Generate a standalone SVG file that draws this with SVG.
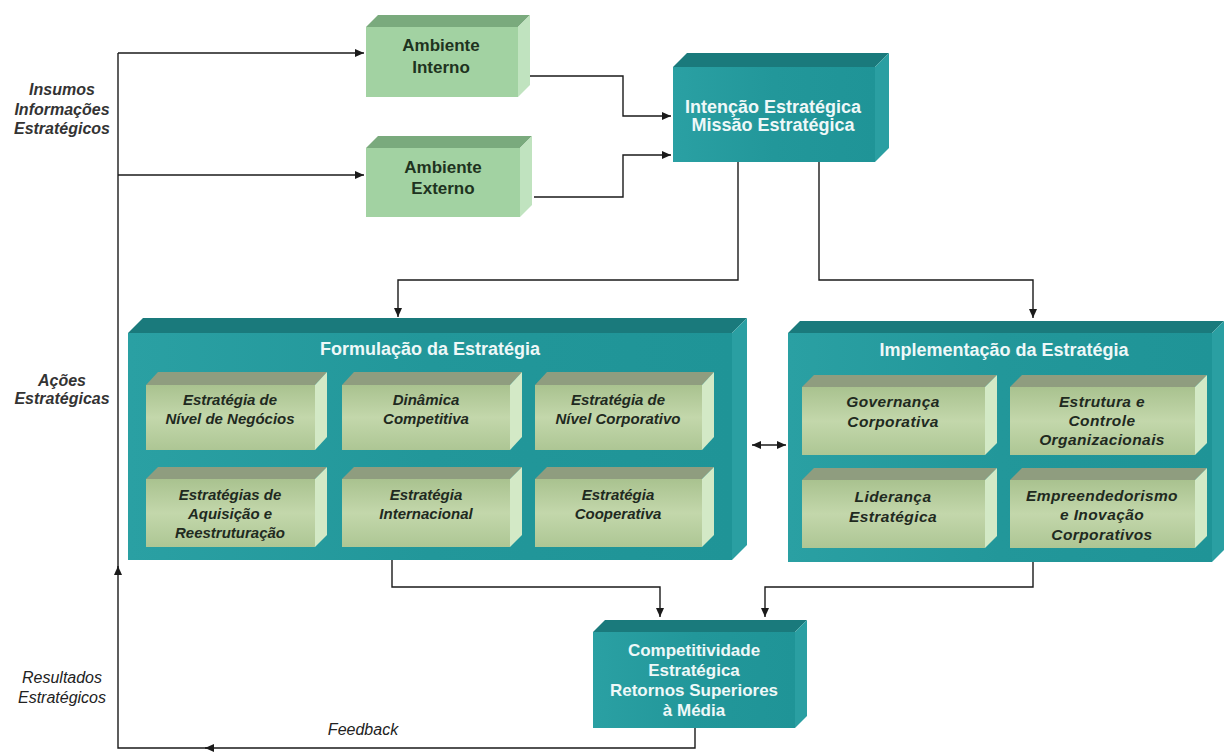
<svg xmlns="http://www.w3.org/2000/svg" width="1224" height="754" viewBox="0 0 1224 754">
<defs>
<marker id="ah" markerWidth="9" markerHeight="8" refX="9" refY="4" orient="auto" markerUnits="userSpaceOnUse">
<path d="M0,0 L9,4 L0,8 z" fill="#1a1a1a"/>
</marker>
<marker id="ahs" markerWidth="9" markerHeight="8" refX="0" refY="4" orient="auto" markerUnits="userSpaceOnUse">
<path d="M9,0 L0,4 L9,8 z" fill="#1a1a1a"/>
</marker>
<linearGradient id="gInner" x1="0" y1="0" x2="0" y2="1">
<stop offset="0" stop-color="#a9c28f"/>
<stop offset="0.5" stop-color="#c3d7ab"/>
<stop offset="1" stop-color="#adc694"/>
</linearGradient>
<linearGradient id="gTeal" x1="0" y1="0" x2="1" y2="0">
<stop offset="0" stop-color="#2aa0a3"/>
<stop offset="0.5" stop-color="#22979a"/>
<stop offset="1" stop-color="#1f9497"/>
</linearGradient>
</defs>
<style>
.tf{fill:url(#gTeal)}
.tt{fill:#1a7a7c}
.tr{fill:#2a9fa2}
.gf{fill:#a2d2a2}
.gt{fill:#7aaa7d}
.gr{fill:#c0e3bf}
.if{fill:url(#gInner)}
.it{fill:#8f9d7f}
.ir{fill:#d3e9c6}
text{font-family:"Liberation Sans",Arial,Helvetica,sans-serif;text-anchor:middle}
.tw{fill:#eef8f8;font-weight:bold;font-size:18px}
.tg{fill:#1e3320;font-weight:bold;font-size:17px}
.ti{fill:#1f2a1f;font-weight:bold;font-style:italic;font-size:15px}
.tj{fill:#1f2a1f;font-weight:bold;font-style:italic;font-size:15.5px;letter-spacing:0.4px}
.lb{fill:#333;font-weight:bold;font-style:italic;font-size:16px}
.lr{fill:#222;font-style:italic;font-size:16px}
.c{fill:none;stroke:#1a1a1a;stroke-width:1.4}
</style>

<g id="connectors">
<path class="c" d="M118,53 H364" marker-end="url(#ah)"/>
<path class="c" d="M118,175 H364" marker-end="url(#ah)"/>
<path class="c" d="M530,76 H623 V116 H671" marker-end="url(#ah)"/>
<path class="c" d="M534,197 H623 V155 H671" marker-end="url(#ah)"/>
<path class="c" d="M738,162 V280 H398 V317" marker-end="url(#ah)"/>
<path class="c" d="M819,162 V280 H1033 V318" marker-end="url(#ah)"/>
<path class="c" d="M752,445 H786" marker-start="url(#ahs)" marker-end="url(#ah)"/>
<path class="c" d="M392,560 V587 H660 V617" marker-end="url(#ah)"/>
<path class="c" d="M1033,562 V587 H765 V617" marker-end="url(#ah)"/>
<path class="c" d="M695,728 V748 H205" marker-end="url(#ah)"/>
<path class="c" d="M208,748 H118 V566" marker-end="url(#ah)"/>
<path class="c" d="M118,570 V53"/>
</g>

<g id="labels">
<text class="lb" x="62" y="95">Insumos</text>
<text class="lb" x="62" y="115">Informações</text>
<text class="lb" x="62" y="134">Estratégicos</text>
<text class="lb" x="62" y="386">Ações</text>
<text class="lb" x="62" y="404">Estratégicas</text>
<text class="lr" x="62" y="683">Resultados</text>
<text class="lr" x="62" y="703">Estratégicos</text>
<text class="lr" x="363" y="735">Feedback</text>
</g>

<g id="ambiente-interno">
<polygon class="gt" points="366,27 378,15 530,15 518,27"/>
<polygon class="gr" points="518,27 530,15 530,85 518,97"/>
<rect class="gf" x="366" y="27" width="152" height="70"/>
<text class="tg" x="441" y="51">Ambiente</text>
<text class="tg" x="441" y="73">Interno</text>
</g>

<g id="ambiente-externo">
<polygon class="gt" points="366,148 378,136 532,136 520,148"/>
<polygon class="gr" points="520,148 532,136 532,205 520,217"/>
<rect class="gf" x="366" y="148" width="154" height="69"/>
<text class="tg" x="443" y="173">Ambiente</text>
<text class="tg" x="443" y="194">Externo</text>
</g>

<g id="intencao">
<polygon class="tt" points="673,67 687,53 889,53 875,67"/>
<polygon class="tr" points="875,67 889,53 889,148 875,162"/>
<rect class="tf" x="673" y="67" width="202" height="95"/>
<text class="tw" x="773" y="113">Intenção Estratégica</text>
<text class="tw" x="773" y="131">Missão Estratégica</text>
</g>

<g id="formulacao">
<polygon class="tt" points="128,333 143,318 747,318 732,333"/>
<polygon class="tr" points="732,333 747,318 747,545 732,560"/>
<rect class="tf" x="128" y="333" width="604" height="227"/>
<text class="tw" x="430" y="355">Formulação da Estratégia</text>
</g>

<g id="f-negocios">
<polygon class="it" points="146,385 158,372 327,372 315,385"/>
<polygon class="ir" points="315,385 327,372 327,437 315,450"/>
<rect class="if" x="146" y="385" width="169" height="65"/>
<text class="ti" x="230" y="405">Estratégia de</text>
<text class="ti" x="230" y="424">Nível de Negócios</text>
</g>
<g id="f-dinamica">
<polygon class="it" points="342,385 354,372 522,372 510,385"/>
<polygon class="ir" points="510,385 522,372 522,437 510,450"/>
<rect class="if" x="342" y="385" width="168" height="65"/>
<text class="ti" x="426" y="405">Dinâmica</text>
<text class="ti" x="426" y="424">Competitiva</text>
</g>
<g id="f-corporativo">
<polygon class="it" points="535,385 547,372 714,372 702,385"/>
<polygon class="ir" points="702,385 714,372 714,437 702,450"/>
<rect class="if" x="535" y="385" width="167" height="65"/>
<text class="ti" x="618" y="405">Estratégia de</text>
<text class="ti" x="618" y="424">Nível Corporativo</text>
</g>
<g id="f-aquisicao">
<polygon class="it" points="146,479 158,467 327,467 315,479"/>
<polygon class="ir" points="315,479 327,467 327,535 315,547"/>
<rect class="if" x="146" y="479" width="169" height="68"/>
<text class="ti" x="230" y="500">Estratégias de</text>
<text class="ti" x="230" y="519">Aquisição e</text>
<text class="ti" x="230" y="538">Reestruturação</text>
</g>
<g id="f-internacional">
<polygon class="it" points="342,479 354,467 522,467 510,479"/>
<polygon class="ir" points="510,479 522,467 522,535 510,547"/>
<rect class="if" x="342" y="479" width="168" height="68"/>
<text class="ti" x="426" y="500">Estratégia</text>
<text class="ti" x="426" y="519">Internacional</text>
</g>
<g id="f-cooperativa">
<polygon class="it" points="535,479 547,467 714,467 702,479"/>
<polygon class="ir" points="702,479 714,467 714,535 702,547"/>
<rect class="if" x="535" y="479" width="167" height="68"/>
<text class="ti" x="618" y="500">Estratégia</text>
<text class="ti" x="618" y="519">Cooperativa</text>
</g>

<g id="implementacao">
<polygon class="tt" points="788,333 800,321 1224,321 1212,333"/>
<polygon class="tr" points="1212,333 1224,321 1224,550 1212,562"/>
<rect class="tf" x="788" y="333" width="424" height="229"/>
<text class="tw" x="1004" y="356">Implementação da Estratégia</text>
</g>

<g id="i-governanca">
<polygon class="it" points="802,387 814,375 997,375 985,387"/>
<polygon class="ir" points="985,387 997,375 997,443 985,455"/>
<rect class="if" x="802" y="387" width="183" height="68"/>
<text class="tj" x="893" y="407">Governança</text>
<text class="tj" x="893" y="427">Corporativa</text>
</g>
<g id="i-estrutura">
<polygon class="it" points="1010,387 1022,375 1207,375 1195,387"/>
<polygon class="ir" points="1195,387 1207,375 1207,443 1195,455"/>
<rect class="if" x="1010" y="387" width="185" height="68"/>
<text class="tj" x="1102" y="407">Estrutura e</text>
<text class="tj" x="1102" y="426">Controle</text>
<text class="tj" x="1102" y="445">Organizacionais</text>
</g>
<g id="i-lideranca">
<polygon class="it" points="802,480 814,468 997,468 985,480"/>
<polygon class="ir" points="985,480 997,468 997,536 985,548"/>
<rect class="if" x="802" y="480" width="183" height="68"/>
<text class="tj" x="893" y="502">Liderança</text>
<text class="tj" x="893" y="522">Estratégica</text>
</g>
<g id="i-empreendedorismo">
<polygon class="it" points="1010,480 1022,468 1207,468 1195,480"/>
<polygon class="ir" points="1195,480 1207,468 1207,536 1195,548"/>
<rect class="if" x="1010" y="480" width="185" height="68"/>
<text class="tj" x="1102" y="501">Empreendedorismo</text>
<text class="tj" x="1102" y="520">e Inovação</text>
<text class="tj" x="1102" y="540">Corporativos</text>
</g>

<g id="competitividade">
<polygon class="tt" points="593,632 605,620 807,620 795,632"/>
<polygon class="tr" points="795,632 807,620 807,716 795,728"/>
<rect class="tf" x="593" y="632" width="202" height="96"/>
<text class="tw" x="694" y="656" style="font-size:17px">Competitividade</text>
<text class="tw" x="694" y="676" style="font-size:17px">Estratégica</text>
<text class="tw" x="694" y="696" style="font-size:17px">Retornos Superiores</text>
<text class="tw" x="694" y="716" style="font-size:17px">à Média</text>
</g>
</svg>
